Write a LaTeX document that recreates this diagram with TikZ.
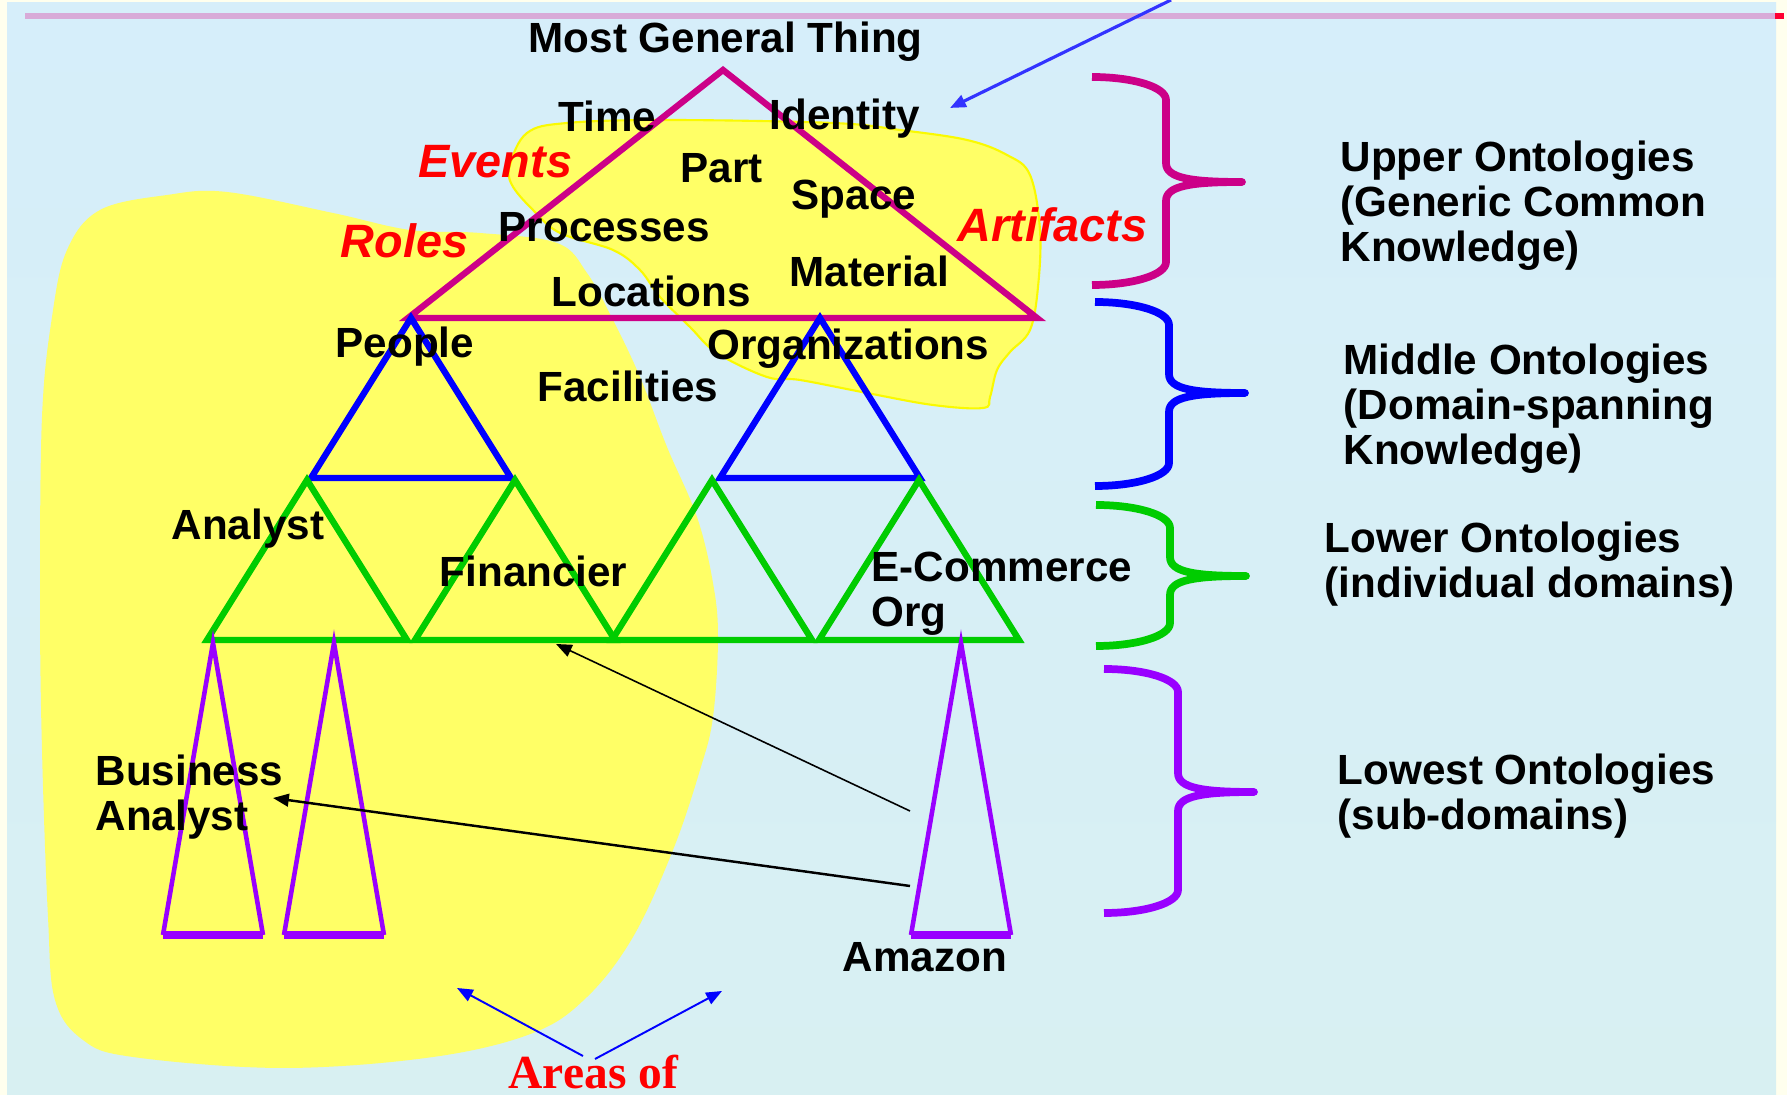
\documentclass[tikz,border=0pt]{standalone}
\usepackage{fontspec}
\setmainfont{Liberation Sans}
\newfontfamily\serifrm{Liberation Serif}
\usetikzlibrary{arrows.meta}

\definecolor{avorio}{RGB}{255,255,238}
\definecolor{sfondo}{RGB}{214,238,250}
\definecolor{sfondob}{RGB}{216,240,242}
\definecolor{giallo}{RGB}{255,255,102}
\definecolor{bordog}{RGB}{250,250,0}
\definecolor{superiore}{RGB}{204,0,136}
\definecolor{blu}{RGB}{0,0,255}
\definecolor{verde}{RGB}{0,204,0}
\definecolor{viola}{RGB}{153,0,255}
\definecolor{rosa}{RGB}{216,170,216}
\definecolor{rosso}{RGB}{255,0,0}
\definecolor{bluchiaro}{RGB}{51,51,255}

\tikzset{
  etichetta/.style={anchor=base west, inner sep=0pt, align=left,
    font=\fontsize{12}{12.8}\selectfont\bfseries},
  rossa/.style={anchor=base west, inner sep=0pt, text=rosso,
    font=\fontsize{13.3}{14}\selectfont\bfseries\itshape},
  lato/.style={line width=1.8pt},
  graffa/.style={line width=2.2pt, line join=round},
  freccia/.style={-{Triangle[length=4.5pt,width=3.6pt]}, line width=0.45pt},
}

\begin{document}
\begin{tikzpicture}[x=0.01cm,y=-0.01cm]
  \useasboundingbox (0,0) rectangle (1787,1095);
  %sfondo
  \fill[avorio] (0,0) rectangle (1787,1095);
  \shade[top color=sfondo,bottom color=sfondob] (7,3) rectangle (1776,1095);
  \draw[rosa,line width=1.7pt] (25,16) -- (1775,16);
  \fill[rosso!80!magenta] (1775,13) rectangle (1784,19);
  % aree gialle
  \fill[giallo] plot[smooth cycle,tension=0.6] coordinates {(227,192) (333,213) (410,230) (480,233)
    (557,243) (587,273) (613,320) (640,377) (667,447) (697,517) (713,583) (718,637) (713,717)
    (700,770) (673,850) (633,937) (587,997) (533,1033) (433,1057) (283,1068) (133,1057) (83,1040)
    (55,1000) (48,917) (42,750) (40,600) (42,417) (52,317) (67,250) (100,210) (167,195)};
  \filldraw[fill=giallo,draw=bordog,line width=0.6pt] plot[smooth cycle,tension=0.6] coordinates {
    (510,165) (527,133) (567,123) (667,120) (833,123) (900,130) (967,140) (1007,155) (1030,175)
    (1040,230) (1038,287) (1030,330) (1010,352) (997,370) (990,397) (983,408) (933,405) (867,393)
    (800,380) (767,377) (717,353) (690,327) (660,297) (640,270) (613,250) (560,233) (533,210) (512,185)};
  % triangoli
  \draw[lato,superiore] (723,70) -- (1037,318) -- (408,318) -- cycle;
  \foreach \x in {411,820}
    \draw[lato,blu] (\x,318) -- (\x+100,478) -- (\x-100,478) -- cycle;
  \foreach \x in {307,515,712,919}
    \draw[lato,verde] (\x,480) -- (\x+100,640) -- (\x-100,640) -- cycle;
  \foreach \x in {213,334,961} {
    \draw[viola,line width=1.3pt] (\x-50,935) -- (\x,643) -- (\x+50,935);
    \draw[viola,line width=2pt] (\x-50,935) -- (\x+50,935);
  }
  % graffe
  \foreach \col/\xa/\ya/\yb/\yc in {superiore/1092/77/182/285, blu/1095/302/393/486,
      verde/1096/505/576/646, viola/1104/669/792/913}
    \draw[graffa,\col] (\xa,\ya) .. controls (\xa+41,\ya) and (\xa+74,\ya+10) .. (\xa+74,\ya+23)
      -- (\xa+74,\yb-19) .. controls (\xa+74,\yb-4) and (\xa+98,\yb) .. (\xa+150,\yb)
      .. controls (\xa+98,\yb) and (\xa+74,\yb+4) .. (\xa+74,\yb+19)
      -- (\xa+74,\yc-23) .. controls (\xa+74,\yc-10) and (\xa+41,\yc) .. (\xa,\yc);
  % etichette (le righe multiple sono ancorate all'ultima riga)
  \node[etichetta] (mgt) at (528,53) {Most General Thing};
  \node[etichetta] (time) at (558,132) {Time};
  \node[etichetta] (identity) at (769,130) {Identity};
  \node[rossa] (events) at (418,178) {Events};
  \node[etichetta] (part) at (680,183) {Part};
  \node[etichetta] (space) at (791,210) {Space};
  \node[rossa] (artifacts) at (957,242) {Artifacts};
  \node[rossa] (roles) at (340,258) {Roles};
  \node[etichetta] (processes) at (498,242) {Processes};
  \node[etichetta] (material) at (789,287) {Material};
  \node[etichetta] (locations) at (551,307) {Locations};
  \node[etichetta] (people) at (335,358) {People};
  \node[etichetta] (orgs) at (707,360) {Organizations};
  \node[etichetta] (facilities) at (537,402) {Facilities};
  \node[etichetta] (analyst) at (171,540) {Analyst};
  \node[etichetta] (financier) at (439,587) {Financier};
  \node[etichetta] (ecomm) at (871,627) {E-Commerce\\Org};
  \node[etichetta] (busan) at (95,831) {Business\\Analyst};
  \node[etichetta] (amazon) at (842,972) {Amazon};
  \node[etichetta] (upper) at (1340,262) {Upper Ontologies\\(Generic Common\\Knowledge)};
  \node[etichetta] (middle) at (1343,465) {Middle Ontologies\\(Domain-spanning\\Knowledge)};
  \node[etichetta] (lower) at (1324,598) {Lower Ontologies\\(individual domains)};
  \node[etichetta] (lowest) at (1337,830) {Lowest Ontologies\\(sub-domains)};
  \node[anchor=base west,inner sep=0pt,text=rosso,font=\serifrm\fontsize{13.5}{14}\selectfont\bfseries]
    (areas) at (508,1089) {Areas of};
  % frecce
  \coordinate (amz1) at (910,811);
  \coordinate (amz2) at (910,886);
  \coordinate (fin) at (556,644);
  \coordinate (ba) at (273,798);
  \draw[freccia] (amz1) -- (fin);
  \draw[freccia,line width=0.7pt] (amz2) -- (ba);
  \coordinate (ar1) at (583,1056);
  \coordinate (ar2) at (595,1059);
  \coordinate (gial) at (457,988);
  \coordinate (azz) at (722,991);
  \draw[freccia,blu,line width=0.55pt] (ar1) -- (gial);
  \draw[freccia,blu,line width=0.55pt] (ar2) -- (azz);
  \coordinate (fuori) at (1171,0);
  \coordinate (ident) at (950,108);
  \draw[freccia,bluchiaro,line width=0.9pt] (fuori) -- (ident);
\end{tikzpicture}
\end{document}
